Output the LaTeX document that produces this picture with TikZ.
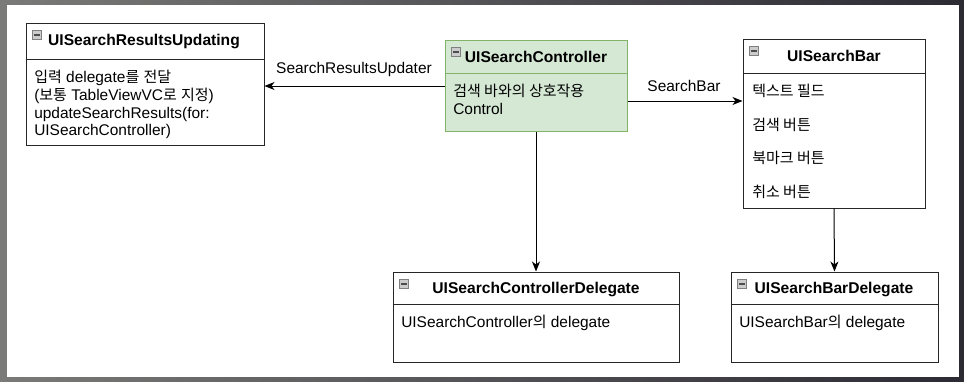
\documentclass[tikz,border=0pt]{standalone}
\usepackage{fontspec}
\setmainfont{Liberation Sans}
\newfontfamily\kor{Noto Sans CJK KR}[Scale=0.97]
\usetikzlibrary{arrows.meta,fit}
\definecolor{ctrlfill}{HTML}{D5E8D4}
\definecolor{ctrldraw}{HTML}{82B366}
\definecolor{frameL}{HTML}{7A7A78}
\definecolor{frameR}{HTML}{2C2A33}
\newcommand\boxicon[2]{%
  \node[icon, anchor=north west] (#1) at #2 {};
  \draw[iconbar] ([xshift=1.5pt]#1.west) -- ([xshift=-1.5pt]#1.east);}
\begin{document}
\begin{tikzpicture}[x=0.75pt,y=-0.75pt,
  box/.style={draw=black!85, line width=0.75pt, fill=white, inner sep=0pt},
  ctrlbox/.style={draw=ctrldraw, fill=ctrlfill, line width=0.75pt, inner sep=0pt},
  divider/.style={draw=black!85, line width=0.75pt},
  ctrldivider/.style={draw=ctrldraw, line width=0.75pt},
  title/.style={font=\bfseries\fontsize{11.7}{14}\selectfont, inner sep=0pt},
  body/.style={font=\fontsize{11.6}{13.3}\selectfont, align=left, inner sep=0pt},
  lbl/.style={font=\fontsize{11.6}{14}\selectfont, inner sep=0pt},
  conn/.style={line width=0.75pt, draw=black, -{Stealth[length=7.5pt,width=6pt,inset=2.2pt]}},
  icon/.style={draw=black!50, fill=black!20, line width=0.5pt, minimum size=7pt, inner sep=0pt},
  iconbar/.style={draw=black!70, line width=1pt}
]
% frame
\shade[left color=frameL, right color=frameR] (0,0) rectangle (964,382);
\fill[white] (7,5) rectangle (959,377);
\useasboundingbox (0,0) rectangle (964,382);

% UISearchResultsUpdating
\node[box, fit={(26,23) (264,145)}] (upd) {};
\draw[divider] (upd.west |- 0,59) -- (upd.east |- 0,59);
\boxicon{updI}{(32,30)}
\node[title] (updT) at (144,42) {UISearchResultsUpdating};
\node[body, anchor=north west] (updB) at (34,70) {{\kor 입력} delegate{\kor 를} {\kor 전달}\\({\kor 보통} TableViewVC{\kor 로} {\kor 지정})\\updateSearchResults(for:\\UISearchController)};

% UISearchController
\node[ctrlbox, fit={(445,40) (627,131)}] (ctrl) {};
\draw[ctrldivider] (ctrl.west |- 0,73) -- (ctrl.east |- 0,73);
\boxicon{ctrlI}{(451,47)}
\node[title] (ctrlT) at (536,57) {UISearchController};
\node[body, anchor=north west] (ctrlB) at (453,84) {{\kor 검색 바와의 상호작용}\\Control};

% UISearchBar
\node[box, fit={(743,39) (925,208)}] (sb) {};
\draw[divider] (sb.west |- 0,73) -- (sb.east |- 0,73);
\boxicon{sbI}{(749,46)}
\node[title] (sbT) at (834,56) {UISearchBar};
\node[body, anchor=west] (sb1) at (752,91) {\kor 텍스트 필드};
\node[body, anchor=west] (sb2) at (752,125) {\kor 검색 버튼};
\node[body, anchor=west] (sb3) at (752,158) {\kor 북마크 버튼};
\node[body, anchor=west] (sb4) at (752,192) {\kor 취소 버튼};

% UISearchControllerDelegate
\node[box, fit={(393,272) (679,362)}] (cd) {};
\draw[divider] (cd.west |- 0,304) -- (cd.east |- 0,304);
\boxicon{cdI}{(399,279)}
\node[title] (cdT) at (536,289) {UISearchControllerDelegate};
\node[body, anchor=west] (cdB) at (401,323) {UISearchController{\kor 의} delegate};

% UISearchBarDelegate
\node[box, fit={(731,272) (938,362)}] (sbd) {};
\draw[divider] (sbd.west |- 0,304) -- (sbd.east |- 0,304);
\boxicon{sbdI}{(737,279)}
\node[title] (sbdT) at (834,289) {UISearchBarDelegate};
\node[body, anchor=west] (sbdB) at (739,323) {UISearchBar{\kor 의} delegate};

% connectors
\coordinate (yUpd) at (0,86);
\coordinate (ySb) at (0,101);
\draw[conn] (ctrl.west |- yUpd) -- (upd.east |- yUpd);
\node[lbl] (lUpd) at (354,70) {SearchResultsUpdater};
\draw[conn] (ctrl.east |- ySb) -- (sb.west |- ySb);
\node[lbl] (lSb) at (684,86) {SearchBar};
\draw[conn] (ctrl.south) -- (cd.north);
\draw[conn] (sb.south) -- (sbd.north);
\end{tikzpicture}
\end{document}
